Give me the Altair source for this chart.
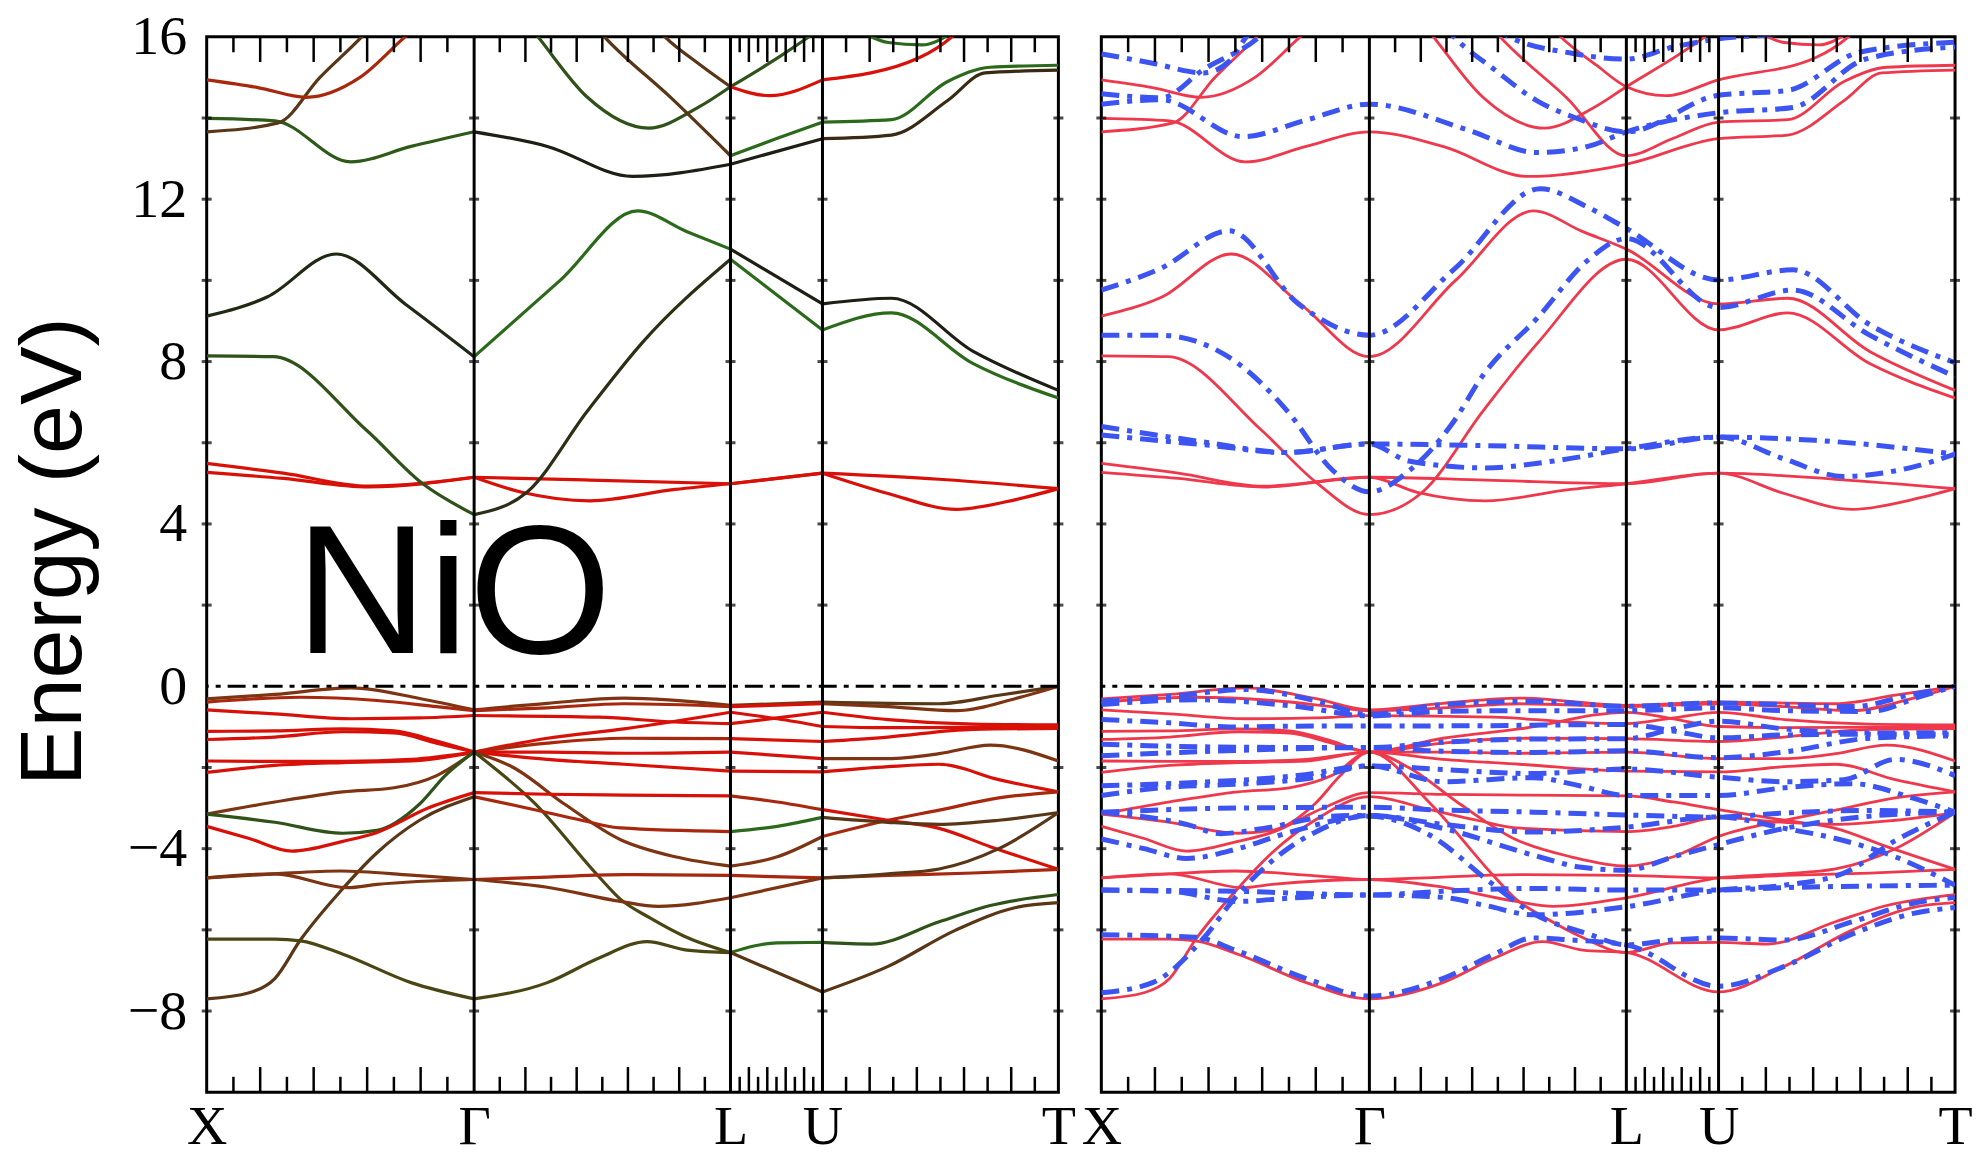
import altair as alt
import pandas as pd

# High-symmetry path (fractional k-distance) and labels
SYM_K = [0.0, 0.314, 0.615, 0.723, 1.0]
SYM_LABELS = ["X", "Γ", "L", "U", "T"]
E_DOMAIN = [-10, 16]
E_LABELS = [-8, -4, 0, 4, 8, 12, 16]
E_MINOR = [-8, -6, -4, -2, 2, 4, 6, 8, 10, 12, 14]

# ---------------- Conduction bands (k, E in eV) ----------------
cb_01 = [(0, 5.49), (0.09, 5.25), (0.19, 4.93), (0.314, 5.15), (0.45, 5.08), (0.615, 4.99), (0.723, 5.25), (0.86, 5.1), (1.0, 4.87)]
cb_02 = [(0, 5.27), (0.09, 5.12), (0.19, 4.91), (0.314, 5.15), (0.37, 4.78), (0.45, 4.57), (0.55, 4.85), (0.615, 4.99), (0.723, 5.25), (0.80, 4.75), (0.88, 4.36), (0.95, 4.6), (1.0, 4.87)]
cb_03 = [(0, 8.14), (0.078, 8.12), (0.188, 6.3), (0.253, 5.0), (0.314, 4.23), (0.376, 4.78), (0.447, 6.78), (0.512, 8.48), (0.615, 10.52), (0.723, 8.78), (0.804, 9.2), (0.9, 7.95), (1.0, 7.1)]
cb_04 = [(0, 9.12), (0.071, 9.59), (0.152, 10.65), (0.233, 9.42), (0.314, 8.12), (0.415, 10.0), (0.506, 11.71), (0.564, 11.2), (0.615, 10.77), (0.723, 9.42), (0.804, 9.56), (0.9, 8.25), (1.0, 7.29)]
cb_05 = [(0, 13.99), (0.08, 13.93), (0.169, 12.92), (0.24, 13.3), (0.314, 13.66), (0.40, 13.3), (0.5, 12.56), (0.615, 12.86), (0.723, 13.49), (0.804, 13.58), (0.87, 14.43), (0.914, 15.11), (1.0, 15.18)]
cb_06 = [(0, 13.66), (0.084, 13.88), (0.133, 15.0), (0.182, 16.0), (0.2, 16.4)]
cb_07 = [(0, 14.94), (0.06, 14.75), (0.117, 14.51), (0.18, 15.0), (0.233, 16.0), (0.25, 16.3)]
cb_08 = [(0.37, 16.5), (0.389, 16.0), (0.447, 14.51), (0.519, 13.75), (0.577, 14.26), (0.615, 14.77), (0.674, 15.53), (0.707, 16.0), (0.72, 16.2)]
cb_09 = [(0.45, 16.4), (0.467, 16.0), (0.545, 14.5), (0.615, 13.07), (0.67, 13.5), (0.723, 13.9), (0.804, 13.96), (0.87, 14.9), (0.92, 15.25), (1.0, 15.3)]
cb_10 = [(0.52, 16.4), (0.538, 16.0), (0.58, 15.3), (0.615, 14.77), (0.661, 14.55), (0.723, 14.94), (0.837, 15.49), (0.875, 16.0), (0.89, 16.3)]
cb_11 = [(0.77, 16.1), (0.80, 15.86), (0.84, 15.8), (0.875, 16.1)]

# ---------------- Valence bands ----------------
vb_01 = [(0, -0.31), (0.08, -0.2), (0.17, -0.04), (0.25, -0.3), (0.314, -0.58), (0.40, -0.42), (0.49, -0.29), (0.615, -0.47), (0.723, -0.39), (0.86, -0.43), (0.93, -0.22), (1.0, 0.0)]
vb_02 = [(0, -0.39), (0.11, -0.27), (0.20, -0.35), (0.27, -0.5), (0.314, -0.60), (0.40, -0.53), (0.49, -0.43), (0.615, -0.5), (0.723, -0.43), (0.80, -0.5), (0.88, -0.6), (0.95, -0.3), (1.0, 0.0)]
vb_03 = [(0, -0.58), (0.08, -0.68), (0.17, -0.80), (0.25, -0.78), (0.314, -0.72), (0.46, -0.76), (0.55, -0.88), (0.615, -0.92), (0.67, -0.78), (0.723, -0.64), (0.80, -0.82), (0.90, -0.93), (1.0, -0.95)]
vb_04 = [(0, -1.11), (0.08, -1.1), (0.16, -1.05), (0.22, -1.1), (0.27, -1.35), (0.314, -1.62), (0.40, -1.28), (0.49, -1.05), (0.615, -0.64), (0.67, -0.8), (0.723, -0.99), (0.80, -1.02), (1.0, -1.0)]
vb_05 = [(0, -1.31), (0.08, -1.25), (0.16, -1.12), (0.22, -1.15), (0.27, -1.4), (0.314, -1.62), (0.40, -1.4), (0.49, -1.28), (0.615, -1.29), (0.723, -1.36), (0.80, -1.25), (0.90, -1.06), (1.0, -1.04)]
vb_06 = [(0, -1.84), (0.08, -1.85), (0.16, -1.85), (0.24, -1.8), (0.314, -1.62), (0.40, -1.62), (0.49, -1.65), (0.615, -1.62), (0.723, -1.78), (0.80, -1.78), (0.86, -1.66), (0.92, -1.45), (1.0, -1.84)]
vb_07 = [(0, -2.12), (0.08, -1.95), (0.16, -1.88), (0.24, -1.84), (0.314, -1.62), (0.40, -1.8), (0.49, -1.92), (0.615, -2.09), (0.723, -2.11), (0.80, -1.98), (0.86, -1.92), (0.93, -2.3), (1.0, -2.6)]
vb_08 = [(0, -3.15), (0.08, -2.85), (0.16, -2.6), (0.22, -2.5), (0.27, -2.2), (0.314, -1.62), (0.36, -2.0), (0.42, -2.9), (0.486, -3.78), (0.55, -4.2), (0.615, -4.43), (0.67, -4.2), (0.723, -3.70), (0.80, -3.3), (0.86, -3.05), (0.93, -2.75), (1.0, -2.6)]
vb_09 = [(0, -3.15), (0.08, -3.35), (0.16, -3.62), (0.2, -3.55), (0.25, -2.9), (0.28, -2.2), (0.314, -1.62), (0.385, -2.88), (0.46, -4.68), (0.486, -5.25), (0.52, -5.7), (0.56, -6.15), (0.615, -6.56), (0.67, -6.32), (0.723, -6.31), (0.78, -6.35), (0.86, -5.8), (0.92, -5.4), (1.0, -5.13)]
vb_10 = [(0, -3.45), (0.05, -3.75), (0.10, -4.06), (0.16, -3.82), (0.2, -3.6), (0.26, -3.0), (0.314, -2.62), (0.40, -2.66), (0.49, -2.68), (0.615, -2.70), (0.67, -2.85), (0.723, -3.04), (0.80, -3.3), (0.86, -3.5), (0.92, -3.95), (1.0, -4.51)]
vb_11 = [(0, -7.70), (0.05, -7.55), (0.08, -7.2), (0.11, -6.25), (0.157, -5.05), (0.20, -4.1), (0.25, -3.3), (0.314, -2.72), (0.385, -3.04), (0.44, -3.3), (0.486, -3.49), (0.615, -3.58), (0.67, -3.45), (0.723, -3.23), (0.80, -3.35), (0.86, -3.4), (0.93, -3.3), (1.0, -3.11)]
vb_12 = [(0, -4.72), (0.08, -4.62), (0.157, -4.55), (0.24, -4.65), (0.314, -4.76), (0.40, -4.7), (0.49, -4.64), (0.615, -4.66), (0.723, -4.72), (0.80, -4.66), (0.90, -4.6), (1.0, -4.51)]
vb_13 = [(0, -4.72), (0.08, -4.62), (0.165, -4.96), (0.2, -4.88), (0.314, -4.76), (0.40, -4.95), (0.486, -5.3), (0.53, -5.42), (0.615, -5.21), (0.723, -4.72), (0.80, -4.62), (0.86, -4.5), (0.93, -4.0), (1.0, -3.11)]
vb_14 = [(0, -6.23), (0.08, -6.23), (0.11, -6.27), (0.16, -6.6), (0.24, -7.3), (0.314, -7.70), (0.40, -7.3), (0.46, -6.7), (0.517, -6.29), (0.564, -6.5), (0.615, -6.56), (0.723, -7.53), (0.80, -6.9), (0.88, -6.0), (0.95, -5.45), (1.0, -5.33)]

# ---------------- Second spin channel (dash-dot) ----------------
bc_01 = [(0, 6.40), (0.12, 6.02), (0.218, 5.76), (0.314, 5.97), (0.45, 5.93), (0.615, 5.85), (0.723, 6.14), (0.836, 6.06), (1.0, 5.72)]
bc_02 = [(0, 6.19), (0.12, 5.95), (0.218, 5.76), (0.314, 5.97), (0.36, 5.55), (0.45, 5.38), (0.53, 5.55), (0.615, 5.85), (0.723, 6.14), (0.80, 5.6), (0.869, 5.17), (0.94, 5.35), (1.0, 5.72)]
bc_03 = [(0, 8.65), (0.068, 8.65), (0.153, 8.06), (0.218, 6.78), (0.27, 5.34), (0.314, 4.79), (0.36, 5.3), (0.413, 6.53), (0.446, 7.63), (0.511, 9.08), (0.57, 10.5), (0.615, 11.03), (0.723, 9.33), (0.81, 9.76), (0.90, 8.65), (1.0, 7.63)]
bc_04 = [(0, 9.76), (0.07, 10.3), (0.15, 11.22), (0.231, 9.42), (0.314, 8.65), (0.413, 10.27), (0.514, 12.26), (0.57, 11.8), (0.615, 11.28), (0.723, 10.01), (0.81, 10.26), (0.90, 8.91), (1.0, 7.97)]
bc_05 = [(0, 14.34), (0.07, 14.45), (0.166, 13.54), (0.24, 13.95), (0.314, 14.34), (0.43, 13.7), (0.51, 13.15), (0.57, 13.3), (0.615, 13.66), (0.723, 14.13), (0.81, 14.26), (0.895, 15.45), (1.0, 15.75)]
bc_06 = [(0, 14.6), (0.07, 14.5), (0.12, 15.2), (0.185, 16.0), (0.2, 16.3)]
bc_07 = [(0, 15.58), (0.06, 15.35), (0.12, 15.11), (0.15, 15.4), (0.17, 16.0), (0.18, 16.2)]
bc_08 = [(0.40, 16.3), (0.413, 16.0), (0.46, 15.2), (0.51, 14.43), (0.556, 14.0), (0.615, 13.66), (0.723, 14.56), (0.804, 14.68), (0.888, 15.62), (1.0, 15.87)]
bc_09 = [(0.46, 16.3), (0.478, 16.0), (0.55, 15.6), (0.615, 15.45), (0.67, 15.75), (0.723, 15.95), (0.80, 16.1), (0.82, 16.3)]

bv_01 = [(0, -0.37), (0.08, -0.25), (0.17, -0.08), (0.25, -0.35), (0.314, -0.69), (0.40, -0.45), (0.506, -0.37), (0.615, -0.49), (0.723, -0.41), (0.80, -0.45), (0.88, -0.5), (0.95, -0.2), (1.0, 0.0)]
bv_02 = [(0, -0.45), (0.11, -0.33), (0.23, -0.5), (0.314, -0.73), (0.40, -0.62), (0.506, -0.6), (0.615, -0.6), (0.723, -0.53), (0.80, -0.6), (0.90, -0.62), (0.96, -0.25), (1.0, 0.0)]
bv_03 = [(0, -0.82), (0.08, -0.9), (0.15, -1.0), (0.25, -0.98), (0.314, -0.98), (0.45, -0.97), (0.615, -0.94), (0.67, -1.1), (0.723, -1.27), (0.80, -1.2), (0.90, -1.18), (1.0, -1.18)]
bv_04 = [(0, -1.43), (0.157, -1.5), (0.314, -1.51), (0.40, -1.38), (0.506, -1.3), (0.615, -1.29), (0.67, -1.05), (0.723, -0.86), (0.80, -1.05), (0.90, -1.15), (1.0, -1.14)]
bv_05 = [(0, -1.71), (0.157, -1.58), (0.314, -1.51), (0.40, -1.6), (0.506, -1.63), (0.615, -1.59), (0.723, -1.76), (0.80, -1.62), (0.90, -1.28), (1.0, -1.22)]
bv_06 = [(0, -2.45), (0.11, -2.37), (0.23, -2.2), (0.314, -1.96), (0.40, -2.05), (0.506, -2.15), (0.615, -2.04), (0.723, -2.24), (0.80, -2.35), (0.87, -2.3), (0.93, -1.8), (1.0, -2.2)]
bv_07 = [(0, -2.69), (0.07, -2.5), (0.17, -2.4), (0.25, -2.25), (0.314, -1.96), (0.40, -2.35), (0.506, -2.25), (0.56, -2.45), (0.615, -2.69), (0.723, -2.69), (0.80, -2.5), (0.88, -2.4), (0.95, -2.75), (1.0, -3.1)]
bv_08 = [(0, -3.1), (0.157, -3.0), (0.314, -2.98), (0.40, -3.05), (0.506, -3.1), (0.615, -3.17), (0.723, -3.22), (0.80, -3.12), (0.90, -3.06), (1.0, -3.1)]
bv_09 = [(0, -3.1), (0.10, -3.4), (0.14, -3.63), (0.19, -3.5), (0.27, -3.2), (0.314, -3.18), (0.40, -3.4), (0.506, -3.59), (0.615, -3.47), (0.723, -3.22), (0.80, -3.5), (0.86, -3.75), (0.93, -4.2), (1.0, -4.9)]
bv_10 = [(0, -3.76), (0.05, -4.0), (0.10, -4.24), (0.16, -4.0), (0.22, -3.6), (0.314, -3.2), (0.385, -3.67), (0.455, -4.82), (0.506, -5.6), (0.57, -6.1), (0.615, -6.37), (0.67, -6.25), (0.723, -6.2), (0.80, -6.25), (0.88, -5.8), (0.95, -5.35), (1.0, -5.2)]
bv_11 = [(0, -5.02), (0.157, -5.05), (0.314, -5.14), (0.40, -5.05), (0.506, -4.98), (0.615, -5.02), (0.723, -5.02), (0.80, -4.96), (0.90, -4.92), (1.0, -4.9)]
bv_12 = [(0, -5.02), (0.08, -5.05), (0.16, -5.3), (0.22, -5.22), (0.314, -5.14), (0.40, -5.2), (0.45, -5.4), (0.506, -5.63), (0.615, -5.43), (0.723, -5.02), (0.80, -4.9), (0.87, -4.6), (0.93, -3.8), (1.0, -3.1)]
bv_13 = [(0, -7.55), (0.06, -7.3), (0.12, -6.2), (0.157, -5.2), (0.20, -4.3), (0.25, -3.6), (0.314, -3.18), (0.40, -3.5), (0.506, -4.16), (0.56, -4.45), (0.615, -4.53), (0.67, -4.2), (0.723, -3.9), (0.80, -3.5), (0.90, -3.2), (1.0, -3.1)]
bv_14 = [(0, -6.12), (0.11, -6.18), (0.157, -6.5), (0.24, -7.2), (0.314, -7.63), (0.40, -7.2), (0.46, -6.6), (0.506, -6.2), (0.55, -6.25), (0.615, -6.37), (0.723, -7.39), (0.80, -6.9), (0.88, -6.1), (0.95, -5.6), (1.0, -5.45)]

MAIN_BANDS = [
    ("cb_01", cb_01), ("cb_02", cb_02), ("cb_03", cb_03), ("cb_04", cb_04), ("cb_05", cb_05),
    ("cb_06", cb_06), ("cb_07", cb_07), ("cb_08", cb_08), ("cb_09", cb_09), ("cb_10", cb_10),
    ("cb_11", cb_11),
    ("vb_01", vb_01), ("vb_02", vb_02), ("vb_03", vb_03), ("vb_04", vb_04), ("vb_05", vb_05),
    ("vb_06", vb_06), ("vb_07", vb_07), ("vb_08", vb_08), ("vb_09", vb_09), ("vb_10", vb_10),
    ("vb_11", vb_11), ("vb_12", vb_12), ("vb_13", vb_13), ("vb_14", vb_14),
]
SECOND_BANDS = [
    ("bc_01", bc_01), ("bc_02", bc_02), ("bc_03", bc_03), ("bc_04", bc_04), ("bc_05", bc_05),
    ("bc_06", bc_06), ("bc_07", bc_07), ("bc_08", bc_08), ("bc_09", bc_09),
    ("bv_01", bv_01), ("bv_02", bv_02), ("bv_03", bv_03), ("bv_04", bv_04), ("bv_05", bv_05),
    ("bv_06", bv_06), ("bv_07", bv_07), ("bv_08", bv_08), ("bv_09", bv_09), ("bv_10", bv_10),
    ("bv_11", bv_11), ("bv_12", bv_12), ("bv_13", bv_13), ("bv_14", bv_14),
]

# Orbital-character shading per path segment (X-Γ, Γ-L, L-U, U-T)
RED = "#d81008"
RED_BROWN = "#a8280e"
BROWN = "#7e3412"
DARK_BROWN = "#583616"
OLIVE = "#4a4614"
GREEN = "#2a6a1a"
DK_GREEN = "#2e5218"
BLACK = "#1e1e14"
SEG_COLORS = {
    "cb_01": (RED, RED, RED, RED),
    "cb_02": (RED, RED, RED, RED),
    "cb_03": (DK_GREEN, "#2e2e16", GREEN, GREEN),
    "cb_04": ("#1e2a14", GREEN, BLACK, BLACK),
    "cb_05": ("#2e5a18", BLACK, BLACK, "#3a2a14"),
    "cb_06": (DARK_BROWN,) * 4,
    "cb_07": (RED_BROWN,) * 4,
    "cb_08": (DK_GREEN,) * 4,
    "cb_09": (DARK_BROWN, DARK_BROWN, GREEN, GREEN),
    "cb_10": (DARK_BROWN, DARK_BROWN, RED, RED),
    "cb_11": (GREEN,) * 4,
    "vb_01": (BROWN, BROWN, BROWN, DARK_BROWN),
    "vb_02": (RED_BROWN, RED_BROWN, RED, BROWN),
    "vb_03": (RED, RED, RED, RED),
    "vb_04": (RED, RED, RED, RED),
    "vb_05": (RED, RED_BROWN, RED, RED),
    "vb_06": (RED, RED, RED, BROWN),
    "vb_07": (RED, RED, RED, RED),
    "vb_08": (BROWN, BROWN, BROWN, RED_BROWN),
    "vb_09": (DK_GREEN, OLIVE, GREEN, DK_GREEN),
    "vb_10": (RED, RED, RED_BROWN, RED),
    "vb_11": (DARK_BROWN, RED_BROWN, GREEN, DARK_BROWN),
    "vb_12": (BROWN, RED_BROWN, RED_BROWN, RED_BROWN),
    "vb_13": (BROWN, BROWN, BROWN, DARK_BROWN),
    "vb_14": (OLIVE, OLIVE, DARK_BROWN, DARK_BROWN),
}
SPIN_UP_COLOR = "#f0384c"
SPIN_DN_COLOR = "#3c54f2"


def segmented_rows(bands):
    rows = []
    for name, pts in bands:
        for s in range(4):
            lo, hi = SYM_K[s], SYM_K[s + 1]
            seg = [(k, e) for k, e in pts if lo - 1e-9 <= k <= hi + 1e-9]
            if len(seg) < 2:
                continue
            for i, (k, e) in enumerate(seg):
                rows.append({"line": f"{name}-{s}", "k": k, "e": e,
                             "color": SEG_COLORS[name][s], "order": i})
    return pd.DataFrame(rows)


def whole_rows(bands):
    rows = []
    for name, pts in bands:
        for i, (k, e) in enumerate(pts):
            rows.append({"line": name, "k": k, "e": e, "order": i})
    return pd.DataFrame(rows)


def k_tick_rows():
    rows = []
    for s in range(4):
        lo, hi = SYM_K[s], SYM_K[s + 1]
        for i in range(1, 10):
            k = lo + (hi - lo) * i / 10
            ln = 0.62 if i % 2 == 0 else 0.38
            rows.append({"k": k, "e": E_DOMAIN[0], "e2": E_DOMAIN[0] + ln})
            rows.append({"k": k, "e": E_DOMAIN[1], "e2": E_DOMAIN[1] - ln})
    return pd.DataFrame(rows)


def e_tick_rows():
    return pd.DataFrame([{"k": k, "e": e} for k in SYM_K for e in E_MINOR])


# x-axis label expression built from the symmetry points
mids = [(SYM_K[i] + SYM_K[i + 1]) / 2 for i in range(4)]
label_expr = ""
for m, lab in zip(mids, SYM_LABELS[:-1]):
    label_expr += f"datum.value < {m:.4f} ? '{lab}' : "
label_expr += f"'{SYM_LABELS[-1]}'"

x_axis = alt.Axis(values=SYM_K, labelExpr=label_expr, ticks=False, domain=False, grid=False,
                  labelFont="Liberation Serif", labelFontSize=56, labelColor="black",
                  labelPadding=7, labelFlush=False, labelOverlap=False, title=None)
X = alt.X("k:Q", scale=alt.Scale(domain=[0, 1], nice=False, zero=False), axis=x_axis)

y_scale = alt.Scale(domain=E_DOMAIN, nice=False, zero=False)
y_axis = alt.Axis(values=E_LABELS, labelExpr="replace(datum.label, '-', '\u2212')",
                  ticks=False, domain=False, grid=False,
                  labelFont="Liberation Serif", labelFontSize=56, labelColor="black",
                  labelPadding=20, labelFlush=False, labelOverlap=False,
                  title="Energy (eV)", titleFont="Liberation Sans", titleFontSize=88,
                  titleFontWeight="normal", titleColor="black", titleAngle=270,
                  titleAlign="center", titleBaseline="middle", titleX=-152, titleY=515)
Y_LEFT = alt.Y("e:Q", scale=y_scale, axis=y_axis)
Y_RIGHT = alt.Y("e:Q", scale=y_scale, axis=None)

H = 1057


def frame_layers(Y):
    fermi = alt.Chart(pd.DataFrame({"e": [0.0]})).mark_rule(
        color="black", strokeWidth=3, strokeDash=[18, 7, 5, 7]).encode(y=Y)
    sym = alt.Chart(pd.DataFrame({"k": SYM_K[1:4]})).mark_rule(
        color="black", strokeWidth=3).encode(x=X)
    kt = alt.Chart(k_tick_rows()).mark_rule(color="black", strokeWidth=2.5).encode(
        x=X, y=Y, y2="e2:Q")
    et = alt.Chart(e_tick_rows()).mark_tick(
        orient="horizontal", size=10, thickness=3, color="black").encode(x=X, y=Y)
    return [fermi, sym, kt, et]


left_lines = alt.Chart(segmented_rows(MAIN_BANDS)).mark_line(
    interpolate="monotone", strokeWidth=3.2, clip=True).encode(
    x=X, y=Y_LEFT, color=alt.Color("color:N", scale=None),
    detail="line:N", order="order:Q")

label_df = pd.DataFrame({"k": [0.104], "e": [0.82], "text": ["NiO"]})
nio = alt.Chart(label_df).mark_text(
    align="left", baseline="alphabetic", font="Liberation Sans", fontSize=184,
    color="black").encode(x=X, y=Y_LEFT, text="text:N")

left = alt.layer(left_lines, *frame_layers(Y_LEFT), nio).properties(width=853, height=H)

up_lines = alt.Chart(whole_rows(MAIN_BANDS)).mark_line(
    interpolate="monotone", strokeWidth=2.8, color=SPIN_UP_COLOR, clip=True).encode(
    x=X, y=Y_RIGHT, detail="line:N", order="order:Q")
dn_lines = alt.Chart(whole_rows(SECOND_BANDS)).mark_line(
    interpolate="monotone", strokeWidth=5, color=SPIN_DN_COLOR, clip=True,
    strokeDash=[18, 8, 5, 8]).encode(
    x=X, y=Y_RIGHT, detail="line:N", order="order:Q")

right = alt.layer(up_lines, dn_lines, *frame_layers(Y_RIGHT)).properties(width=855, height=H)

chart = alt.hconcat(left, right, spacing=43, bounds="flush").properties(
    padding={"left": 9, "top": 6, "right": 8, "bottom": 0},
    background="white",
).configure_view(stroke="black", strokeWidth=3)

chart.save("out.html", embed_options={"renderer": "svg", "actions": False})
